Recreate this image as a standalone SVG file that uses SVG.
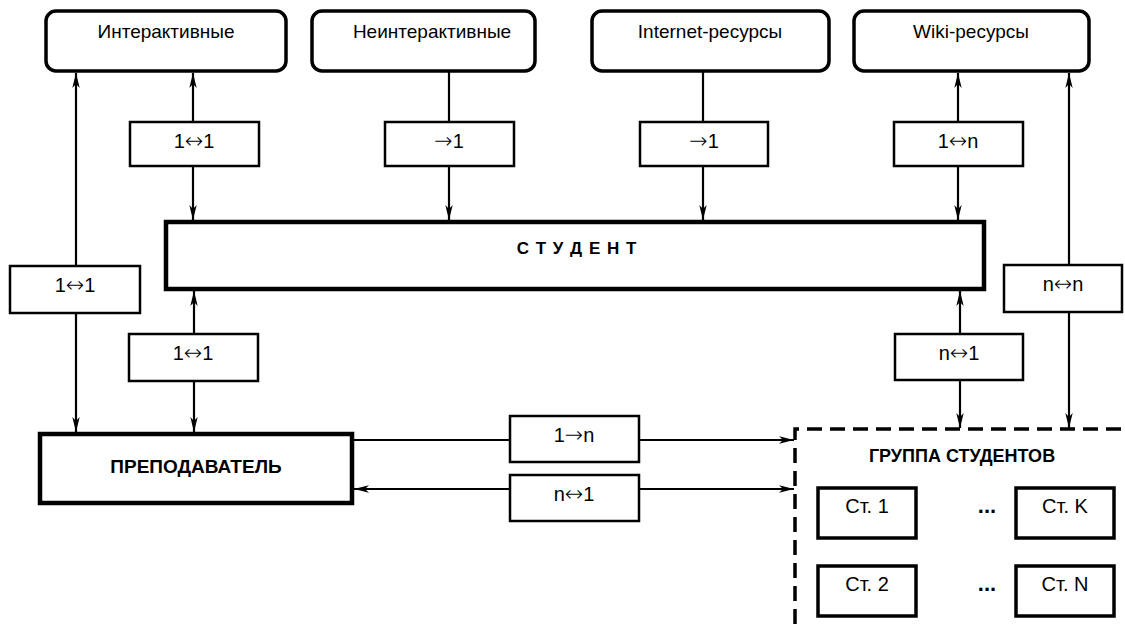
<svg xmlns="http://www.w3.org/2000/svg" width="1125" height="624" viewBox="0 0 1125 624">
<defs>
<marker id="ah" markerUnits="userSpaceOnUse" markerWidth="16" markerHeight="9" refX="15" refY="4.5" orient="auto">
<path d="M0,0.8 L15,4.5 L0,8.2 L4,4.5 z" fill="#000"/>
</marker>
<style>
text{font-family:"Liberation Sans",Arial,sans-serif;fill:#000;text-anchor:middle}
.top{fill:#fff;stroke:#000;stroke-width:3.5}
.lbl{fill:#fff;stroke:#000;stroke-width:2.5}
.big{fill:#fff;stroke:#000;stroke-width:4.5}
.st{fill:#fff;stroke:#000;stroke-width:3.5}
.t1{font-size:19px}
.t2{font-size:20px}
.ar{font-family:"DejaVu Sans",sans-serif;font-size:22px;font-weight:200}
.b{font-weight:bold;font-size:18px}
.c line{stroke:#000;stroke-width:2.2;fill:none}
.a{marker-end:url(#ah)}
</style>
</defs>
<rect width="1125" height="624" fill="#fff"/>

<g id="interactive"><rect class="top" x="46" y="11" width="240" height="60" rx="10"/><text class="t1" x="166" y="38">Интерактивные</text></g>
<g id="noninteractive"><rect class="top" x="312" y="11" width="223" height="60" rx="10"/><text class="t1" x="432" y="38">Неинтерактивные</text></g>
<g id="internet"><rect class="top" x="592" y="11" width="237" height="60" rx="10"/><text class="t1" x="710" y="38">Internet-ресурсы</text></g>
<g id="wiki"><rect class="top" x="854" y="11" width="235" height="60" rx="10"/><text class="t1" x="971" y="38">Wiki-ресурсы</text></g>

<g id="student"><rect class="big" x="166" y="222" width="818" height="67"/><text class="b" x="577" y="254" style="font-size:17px;letter-spacing:1px">С Т У Д Е Н Т</text></g>
<g id="teacher"><rect class="big" x="40" y="434" width="312" height="69"/><text class="b" x="196" y="473" style="font-size:19px">ПРЕПОДАВАТЕЛЬ</text></g>

<g id="group">
<path d="M795,624 V429 H1125" fill="none" stroke="#000" stroke-width="3.5" stroke-dasharray="15 8"/>
<text class="b" x="962" y="462">ГРУППА СТУДЕНТОВ</text>
</g>
<g id="st1"><rect class="st" x="818" y="488" width="98" height="50"/><text class="t2" x="867" y="513">Ст. 1</text></g>
<g id="stk"><rect class="st" x="1016" y="488" width="98" height="50"/><text class="t2" x="1065" y="513">Ст. K</text></g>
<g id="st2"><rect class="st" x="818" y="566" width="98" height="50"/><text class="t2" x="867" y="591">Ст. 2</text></g>
<g id="stn"><rect class="st" x="1016" y="566" width="98" height="50"/><text class="t2" x="1065" y="591">Ст. N</text></g>
<g id="dots1"><text class="b" x="987" y="513" style="font-size:22px">...</text></g>
<g id="dots2"><text class="b" x="987" y="591" style="font-size:22px">...</text></g>

<g id="connectors" class="c">
<line class="a" x1="76" y1="266" x2="76" y2="73"/>
<line class="a" x1="76" y1="313" x2="76" y2="432"/>
<line class="a" x1="193" y1="122" x2="193" y2="73"/>
<line class="a" x1="193" y1="166" x2="193" y2="220"/>
<line x1="449" y1="71" x2="449" y2="122"/>
<line class="a" x1="449" y1="166" x2="449" y2="220"/>
<line x1="703" y1="71" x2="703" y2="122"/>
<line class="a" x1="703" y1="166" x2="703" y2="220"/>
<line class="a" x1="958" y1="122" x2="958" y2="73"/>
<line class="a" x1="958" y1="166" x2="958" y2="220"/>
<line class="a" x1="1069" y1="265" x2="1069" y2="73"/>
<line class="a" x1="1069" y1="312" x2="1069" y2="428"/>
<line class="a" x1="194" y1="334" x2="194" y2="291"/>
<line class="a" x1="194" y1="381" x2="194" y2="432"/>
<line class="a" x1="960" y1="334" x2="960" y2="291"/>
<line class="a" x1="960" y1="380" x2="960" y2="428"/>
<line x1="352" y1="440" x2="510" y2="440"/>
<line class="a" x1="639" y1="440" x2="794" y2="440"/>
<line class="a" x1="510" y1="489" x2="354" y2="489"/>
<line class="a" x1="639" y1="489" x2="794" y2="489"/>
</g>

<g id="l1"><rect class="lbl" x="130" y="122" width="129" height="44"/><text class="t2" x="194" y="148">1<tspan class="ar">↔</tspan>1</text></g>
<g id="l2"><rect class="lbl" x="385" y="122" width="129" height="44"/><text class="t2" x="449" y="148"><tspan class="ar">→</tspan>1</text></g>
<g id="l3"><rect class="lbl" x="640" y="122" width="128" height="44"/><text class="t2" x="704" y="148"><tspan class="ar">→</tspan>1</text></g>
<g id="l4"><rect class="lbl" x="894" y="122" width="129" height="44"/><text class="t2" x="958" y="148">1<tspan class="ar">↔</tspan>n</text></g>
<g id="l5"><rect class="lbl" x="10" y="266" width="130" height="47"/><text class="t2" x="75" y="292">1<tspan class="ar">↔</tspan>1</text></g>
<g id="l6"><rect class="lbl" x="1004" y="265" width="118" height="47"/><text class="t2" x="1063" y="291">n<tspan class="ar">↔</tspan>n</text></g>
<g id="l7"><rect class="lbl" x="129" y="334" width="129" height="47"/><text class="t2" x="193" y="360">1<tspan class="ar">↔</tspan>1</text></g>
<g id="l8"><rect class="lbl" x="895" y="334" width="128" height="46"/><text class="t2" x="959" y="360">n<tspan class="ar">↔</tspan>1</text></g>
<g id="l9"><rect class="lbl" x="510" y="416" width="129" height="46"/><text class="t2" x="574" y="442">1<tspan class="ar">→</tspan>n</text></g>
<g id="l10"><rect class="lbl" x="510" y="475" width="129" height="46"/><text class="t2" x="574" y="501">n<tspan class="ar">↔</tspan>1</text></g>
</svg>
